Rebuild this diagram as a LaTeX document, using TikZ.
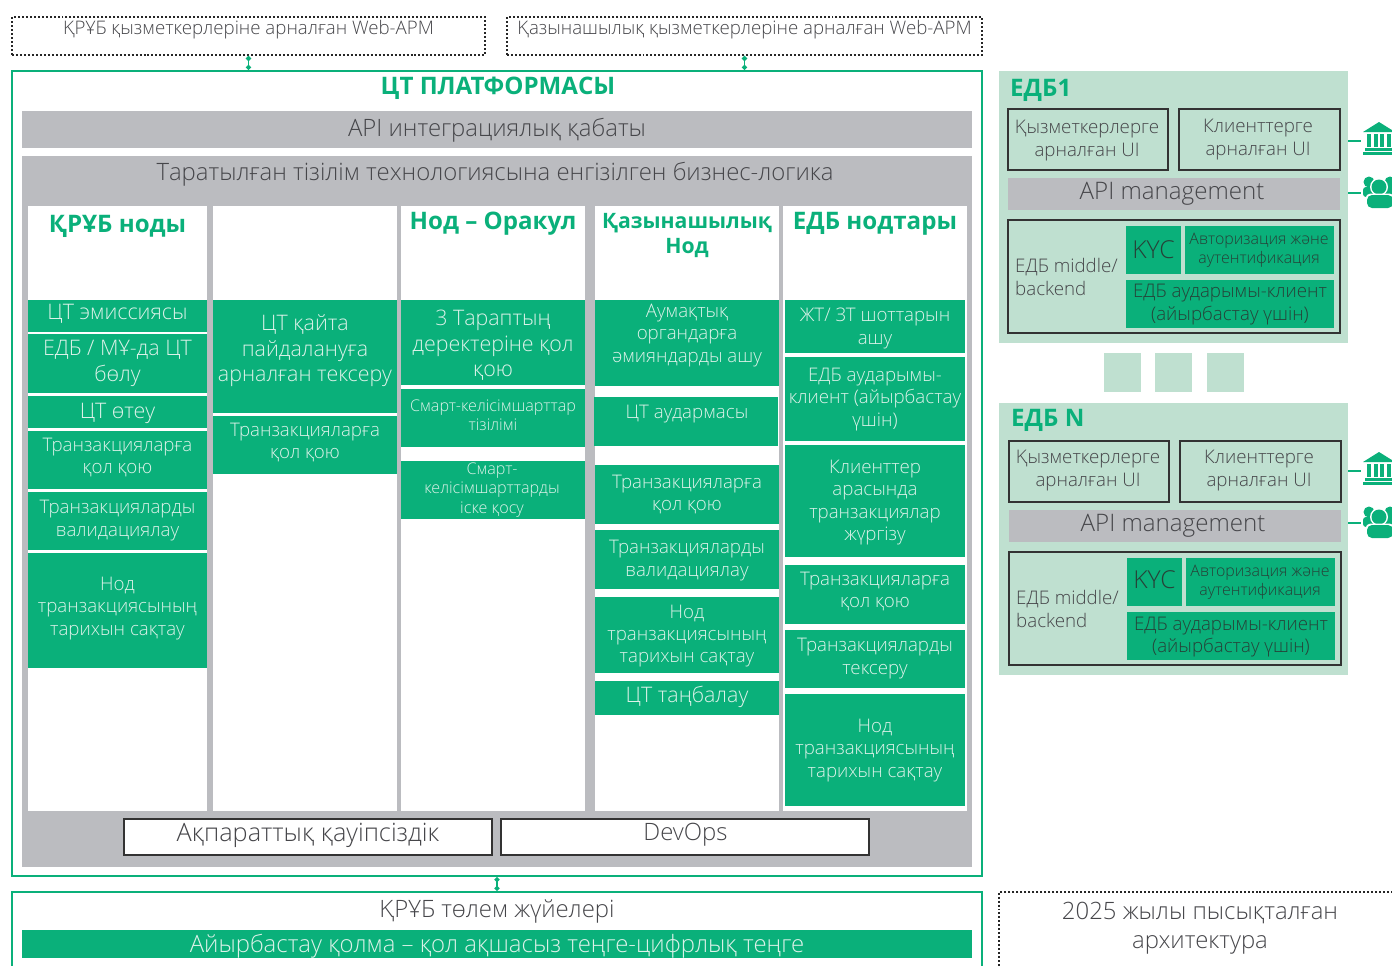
\documentclass[tikz,border=0pt]{standalone}
\usepackage{fontspec}
\setmainfont{Open Sans}[UprightFont=* Light,BoldFont=* Bold]
\usetikzlibrary{arrows.meta}
\definecolor{cbgreen}{RGB}{10,176,122}
\definecolor{cblight}{RGB}{191,224,208}
\definecolor{cbgray}{RGB}{187,188,192}
\definecolor{cbtext}{RGB}{70,70,74}
\definecolor{cbdark}{RGB}{38,66,56}
\definecolor{cbpale}{RGB}{220,242,233}
\tikzset{
	framebox/.style={draw=cbgreen,line width=2.4pt,inner sep=0pt},
	dotbox/.style={draw=black!85,line width=2pt,dash pattern=on 2pt off 2pt,inner sep=0pt},
	uibox/.style={draw=black!80,line width=1.3pt,inner sep=0pt},
	link/.style={draw=cbgreen,line width=1.4pt,{Circle[length=5pt]}-{Circle[length=5pt]}},
	stub/.style={draw=cbgreen,line width=1.2pt},
	txt/.style={text=cbtext,align=center,inner sep=0pt,yshift=-2.5bp},
	pale/.style={text=cbpale,align=center,inner sep=0pt,yshift=-2.5bp},
	deep/.style={text=cbdark,align=center,inner sep=0pt,yshift=-2.5bp},
	head/.style={text=cbgreen,align=center,inner sep=0pt,yshift=-2.5bp,font=\bfseries\fontsize{24.2}{26}\selectfont},
	sz/.style={font=\pgfmathsetmacro\lineskp{#1*1.19}\fontsize{#1}{\lineskp}\selectfont},
	bankicon/.pic={
		\fill[cbgreen] (-16,-7) -- (0,-17) -- (16,-7) -- cycle;
		\fill[cbgreen] (-14,9) rectangle (14,11.5);
		\fill[cbgreen] (-16,12.5) rectangle (16,16);
		\foreach \px in {-12,-5.5,1,7.5}
			\fill[cbgreen] (\px,-5) rectangle (\px+4,8);
	},
	peopleicon/.pic={
		\fill[cbgreen] (-11,-11) circle (5.5) (10,-11) circle (5.5);
		\fill[cbgreen,rounded corners=3pt] (-17,4) rectangle (17,-6);
		\fill[white] (-1,-6) circle (9);
		\fill[cbgreen] (-1,-6) circle (7.5);
		\fill[white,rounded corners=5pt] (-14.5,16.5) rectangle (14.5,0.5);
		\fill[cbgreen,rounded corners=5pt] (-13,15) rectangle (13,2);
	}
}
\begin{document}
\begin{tikzpicture}[x=1bp,y=-1bp]
	\useasboundingbox (0,0) rectangle (1392,965);
	% web clients on top
	\node[dotbox,minimum width=473bp,minimum height=38bp] (webStaff) at (248.5,36) {};
	\node[dotbox,minimum width=475bp,minimum height=38bp] (webTreasury) at (744.5,36) {};
	\node[txt,sz=18.75] (webStaffText) at (248.5,27) {ҚРҰБ қызметкерлеріне арналған Web-АРМ};
	\node[txt,sz=18.75] (webTreasuryText) at (744.5,27) {Қазынашылық қызметкерлеріне арналған Web-АРМ};
	% the platform frame
	\node[framebox,minimum width=970bp,minimum height=805bp] (platform) at (497,473.5) {};
	\draw[link] (webStaff.south) -- (webStaff.south |- platform.north);
	\draw[link] (webTreasury.south) -- (webTreasury.south |- platform.north);
	\node[head] (platformTitle) at (498,86) {ЦТ ПЛАТФОРМАСЫ};
	\fill[cbgray] (22,111) rectangle (972,148);
	\node[txt,sz=24] (apiLayer) at (497,128) {API интеграциялық қабаты};
	\fill[cbgray] (22,156) rectangle (972,867);
	\node[txt,sz=24] (businessLogic) at (495,172) {Таратылған тізілім технологиясына енгізілген бизнес-логика};
	% white columns
	\fill[white] (28,206) rectangle (207,811);
	\fill[white] (213,206) rectangle (397,811);
	\fill[white] (401,206) rectangle (585,811);
	\fill[white] (595,206) rectangle (779,811);
	\fill[white] (783,206) rectangle (967,811);
	\node[head] (colCentral) at (117.5,224) {ҚРҰБ ноды};
	\node[head] (colOracle) at (493,221) {Нод -- Оракул};
	\node[head,font=\bfseries\fontsize{21.3}{26}\selectfont] (colTreasury) at (687,233) {Қазынашылық\\Нод};
	\node[head] (colBanks) at (875,221) {ЕДБ нодтары};
	% column 1
	\fill[cbgreen] (28,300) rectangle (207,332);
	\node[pale,sz=21.5] (c1a) at (117.5,311) {ЦТ эмиссиясы};
	\fill[cbgreen] (28,334) rectangle (207,393);
	\node[pale,sz=21.5] (c1b) at (117.5,361) {ЕДБ / МҰ-да ЦТ\\бөлу};
	\fill[cbgreen] (28,396) rectangle (207,428);
	\node[pale,sz=21.5] (c1c) at (117.5,411) {ЦТ өтеу};
	\fill[cbgreen] (28,431) rectangle (207,489);
	\node[pale,sz=18.8] (c1d) at (117.5,455) {Транзакцияларға\\қол қою};
	\fill[cbgreen] (28,492) rectangle (207,550);
	\node[pale,sz=18.8] (c1e) at (117.5,518) {Транзакцияларды\\валидациялау};
	\fill[cbgreen] (28,553) rectangle (207,668);
	\node[pale,sz=18.8] (c1f) at (117.5,606) {Нод\\транзакциясының\\тарихын сақтау};
	% column 2
	\fill[cbgreen] (213,300) rectangle (397,413);
	\node[pale,sz=21.5] (c2a) at (305,348.5) {ЦТ қайта\\пайдалануға\\арналған тексеру};
	\fill[cbgreen] (213,416) rectangle (397,474);
	\node[pale,sz=18.8] (c2b) at (305,440) {Транзакцияларға\\қол қою};
	% column 3
	\fill[cbgreen] (401,300) rectangle (585,385);
	\node[pale,sz=21.5] (c3a) at (493,343) {3 Тараптың\\деректеріне қол\\қою};
	\fill[cbgreen] (401,389) rectangle (585,447);
	\node[pale,sz=16.2] (c3b) at (493,412.5) {Смарт-келісімшарттар\\тізілімі};
	\fill[cbgreen] (401,461) rectangle (585,519);
	\node[pale,sz=16.2] (c3c) at (492,487.5) {Смарт-\\келісімшарттарды\\іске қосу};
	% column 4
	\fill[cbgreen] (595,300) rectangle (779,386);
	\node[pale,sz=18.8] (c4a) at (687,333) {Аумақтық\\органдарға\\әмияндарды ашу};
	\fill[cbgreen] (594,397) rectangle (778,446);
	\node[pale,sz=18.8] (c4b) at (687,412) {ЦТ аудармасы};
	\fill[cbgreen] (595,465) rectangle (779,524);
	\node[pale,sz=18.8] (c4c) at (687,492) {Транзакцияларға\\қол қою};
	\fill[cbgreen] (595,530) rectangle (779,589);
	\node[pale,sz=18.8] (c4d) at (687,558) {Транзакцияларды\\валидациялау};
	\fill[cbgreen] (595,597) rectangle (779,673);
	\node[pale,sz=18.8] (c4e) at (687,633.5) {Нод\\транзакциясының\\тарихын сақтау};
	\fill[cbgreen] (595,681) rectangle (779,715);
	\node[pale,sz=21.5] (c4f) at (687,694) {ЦТ таңбалау};
	% column 5
	\fill[cbgreen] (785,300) rectangle (965,353);
	\node[pale,sz=18.8] (c5a) at (875,326) {ЖТ/ ЗТ шоттарын\\ашу};
	\fill[cbgreen] (785,357) rectangle (965,441);
	\node[pale,sz=18.8] (c5b) at (875,397) {ЕДБ аударымы-\\клиент (айырбастау\\үшін)};
	\fill[cbgreen] (785,445) rectangle (965,557);
	\node[pale,sz=18.8] (c5c) at (875,500) {Клиенттер\\арасында\\транзакциялар\\жүргізу};
	\fill[cbgreen] (785,565) rectangle (965,624);
	\node[pale,sz=18.8] (c5d) at (875,589) {Транзакцияларға\\қол қою};
	\fill[cbgreen] (785,630) rectangle (965,688);
	\node[pale,sz=18.8] (c5e) at (875,656) {Транзакцияларды\\тексеру};
	\fill[cbgreen] (785,694) rectangle (965,806);
	\node[pale,sz=18.8] (c5f) at (875,748) {Нод\\транзакциясының\\тарихын сақтау};
	% bottom of the platform
	\node[uibox,fill=white,minimum width=368bp,minimum height=36bp] (security) at (308,837) {};
	\node[uibox,fill=white,minimum width=368bp,minimum height=36bp] (devops) at (685,837) {};
	\node[txt,sz=25.4] (securityText) at (308,833) {Ақпараттық қауіпсіздік};
	\node[txt,sz=24] (devopsText) at (685.5,832) {DevOps};
	% payment systems, runs off the page
	\node[framebox,minimum width=970bp,minimum height=100bp] (payment) at (497,942) {};
	\draw[link] (platform.south) -- (payment.north);
	\node[txt,sz=24] (paymentText) at (497,909) {ҚРҰБ төлем жүйелері};
	\fill[cbgreen] (22,930) rectangle (972,958);
	\node[pale,sz=24] (fiatText) at (497,944) {Айырбастау қолма -- қол ақшасыз теңге-цифрлық теңге};
	% note, runs off the page
	\node[dotbox,minimum width=410bp,minimum height=100bp] (note) at (1204,942) {};
	\node[txt,sz=24] (noteText) at (1200,925.5) {2025 жылы пысықталған\\архитектура};
	% bank 1
	\node[fill=cblight,inner sep=0pt,minimum width=349bp,minimum height=272bp] (bankOne) at (1173.5,207) {};
	\node[head,anchor=west] (bankOneTitle) at (1010,88) {ЕДБ1};
	\node[uibox,minimum width=160bp,minimum height=61bp] (staffOne) at (1088,139.5) {};
	\node[uibox,minimum width=161bp,minimum height=61bp] (clientOne) at (1259.5,139.5) {};
	\node[txt,sz=18.8] (staffOneText) at (1087,138) {Қызметкерлерге\\арналған UI};
	\node[txt,sz=18.8] (clientOneText) at (1258,137) {Клиенттерге\\арналған UI};
	\fill[cbgray] (1008,178) rectangle (1340,210);
	\node[txt,sz=24.2] (apiOne) at (1172,191) {API management};
	\node[uibox,minimum width=332bp,minimum height=113bp] (backOne) at (1174,276.5) {};
	\node[txt,sz=18.8,align=left,anchor=west] (backOneText) at (1015,274.5) {ЕДБ middle/\\backend};
	\fill[cbgreen] (1126,226) rectangle (1181,274);
	\node[deep,sz=24.8] (kycOne) at (1153.5,247.5) {KYC};
	\fill[cbgreen] (1185,226) rectangle (1334,274);
	\node[deep,sz=16] (authOne) at (1259,248) {Авторизация және\\аутентификация};
	\fill[cbgreen] (1126,280) rectangle (1334,328);
	\node[deep,sz=18.8] (clientAppOne) at (1230,302) {ЕДБ аударымы-клиент\\(айырбастау үшін)};
	\coordinate (bankIconOne) at (1361,141);
	\coordinate (peopleIconOne) at (1361,193);
	\draw[stub] (bankOne.east |- bankIconOne) -- (bankIconOne);
	\draw[stub] (bankOne.east |- peopleIconOne) -- (peopleIconOne);
	\pic at (1379,139) {bankicon};
	\pic at (1380,193) {peopleicon};
	% squares between the banks
	\foreach \sx in {1104,1155,1207}
		\fill[cblight] (\sx,353) rectangle (\sx+37,392);
	% bank N
	\node[fill=cblight,inner sep=0pt,minimum width=349bp,minimum height=272bp] (bankN) at (1173.5,539) {};
	\node[head,anchor=west] (bankNTitle) at (1011,418) {ЕДБ N};
	\node[uibox,minimum width=160bp,minimum height=61bp] (staffN) at (1089,471.5) {};
	\node[uibox,minimum width=161bp,minimum height=61bp] (clientN) at (1260.5,471.5) {};
	\node[txt,sz=18.8] (staffNText) at (1088,468) {Қызметкерлерге\\арналған UI};
	\node[txt,sz=18.8] (clientNText) at (1259,468) {Клиенттерге\\арналған UI};
	\fill[cbgray] (1009,510) rectangle (1341,542);
	\node[txt,sz=24.2] (apiN) at (1173,523) {API management};
	\node[uibox,minimum width=332bp,minimum height=113bp] (backN) at (1175,608.5) {};
	\node[txt,sz=18.8,align=left,anchor=west] (backNText) at (1016,606.5) {ЕДБ middle/\\backend};
	\fill[cbgreen] (1127,558) rectangle (1182,606);
	\node[deep,sz=24.8] (kycN) at (1154.5,577.5) {KYC};
	\fill[cbgreen] (1186,558) rectangle (1335,606);
	\node[deep,sz=16] (authN) at (1260,580) {Авторизация және\\аутентификация};
	\fill[cbgreen] (1127,612) rectangle (1335,660);
	\node[deep,sz=18.8] (clientAppN) at (1231,634.5) {ЕДБ аударымы-клиент\\(айырбастау үшін)};
	\coordinate (bankIconN) at (1361,471);
	\coordinate (peopleIconN) at (1361,523);
	\draw[stub] (bankN.east |- bankIconN) -- (bankIconN);
	\draw[stub] (bankN.east |- peopleIconN) -- (peopleIconN);
	\pic at (1379,469) {bankicon};
	\pic at (1380,523) {peopleicon};
\end{tikzpicture}
\end{document}
